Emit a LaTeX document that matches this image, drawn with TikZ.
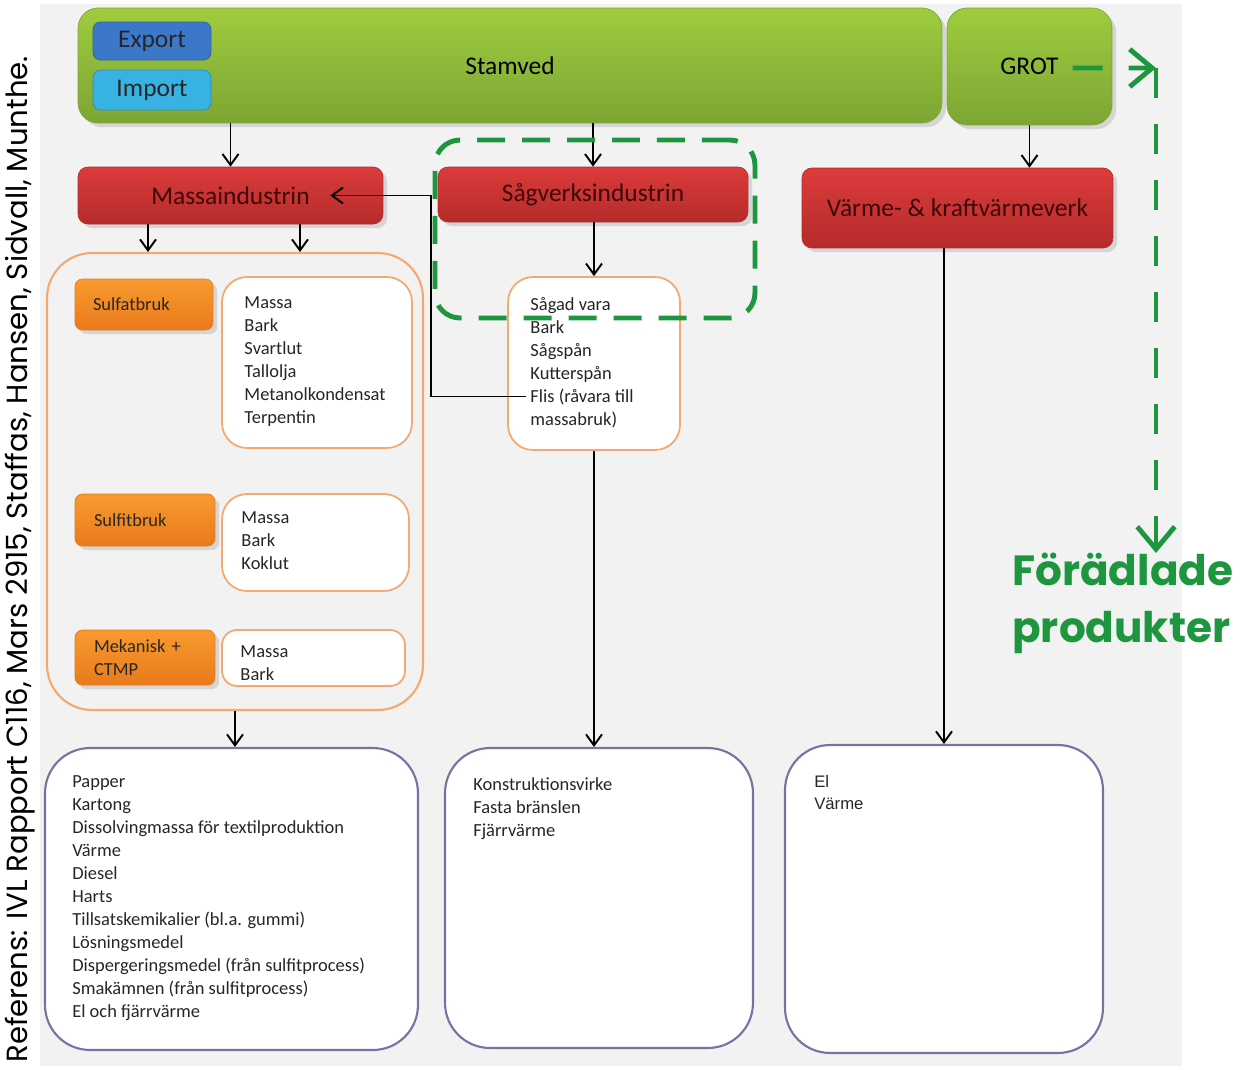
\documentclass[tikz,border=0pt]{standalone}
\usepackage{fontspec}
\setmainfont{Carlito}
\newfontfamily\gothfont{Poppins}
\newfontfamily\arialfont{Liberation Sans}
\usetikzlibrary{positioning,calc,arrows.meta,shadows}

\definecolor{bggray}{HTML}{F2F2F2}
\definecolor{woodtop}{HTML}{9FCC3E}
\definecolor{woodbot}{HTML}{7DA534}
\definecolor{redtop}{HTML}{DC3B3B}
\definecolor{redbot}{HTML}{B52B2B}
\definecolor{redtext}{HTML}{3E0808}
\definecolor{exportblue}{HTML}{3B78C9}
\definecolor{importblue}{HTML}{38B2E3}
\definecolor{orangetop}{HTML}{F89A30}
\definecolor{orangebot}{HTML}{E97A1B}
\definecolor{orangeline}{HTML}{F3A96F}
\definecolor{purpleline}{HTML}{7E6FA1}
\definecolor{dashgreen}{HTML}{1E963F}

\begin{document}
\begin{tikzpicture}[x=0.02cm,y=-0.02cm,
  >={Straight Barb[length=2.2mm,width=3.2mm]},
  headfont/.style={font=\fontsize{14.5}{17}\selectfont},
  woodbox/.style={headfont,rounded corners=0.4cm,top color=woodtop,bottom color=woodbot,draw=woodbot,drop shadow={opacity=0.25}},
  industry/.style={headfont,rounded corners=0.2cm,top color=redtop,bottom color=redbot,draw=redbot,text=redtext,drop shadow={opacity=0.25}},
  tradebox/.style={headfont,rounded corners=0.15cm,fill=#1,draw=#1!80!black,text=black!85,minimum width=2.36cm},
  millbox/.style={rounded corners=0.15cm,top color=orangetop,bottom color=orangebot,draw=orangebot,text=black!85,
    text width=2.04cm,align=left,inner xsep=0.36cm,font=\fontsize{10.5}{13}\selectfont,drop shadow={opacity=0.25}},
  productbox/.style={draw=orangeline,line width=1pt,fill=white,rounded corners=0.5cm},
  resultbox/.style={draw=purpleline,line width=1.2pt,fill=white,rounded corners=0.9cm},
  listtext/.style={anchor=north west,inner sep=0pt,align=left,text=black!85,font=\fontsize{10.5}{13.1}\selectfont},
  flow/.style={->,line width=1.1pt},
  greenflow/.style={dashgreen,line width=2.8pt,dash pattern=on 0.6cm off 0.52cm,-{Straight Barb[length=0.45cm,width=0.75cm]}}]
  \useasboundingbox (0,0) rectangle (1248,1069);
  \fill[bggray] (40,4) rectangle (1182,1066);

  \node[rotate=90,anchor=west,inner sep=0pt,font=\gothfont\fontsize{16.6}{19}\selectfont] (reference) at (20,1063)
    {Referens: IVL Rapport C116, Mars 2915, Staffas, Hansen, Sidvall, Munthe.};

  \node[woodbox,minimum width=17.28cm,minimum height=2.3cm] (stamved) at (510,65.5) {Stamved};
  \node[tradebox=exportblue,minimum height=0.76cm] (export) at (152,41) {Export};
  \node[tradebox=importblue,minimum height=0.8cm] (import) at (152,90) {Import};
  \node[woodbox,minimum width=3.3cm,minimum height=2.34cm] (grot) at (1029.5,66.5) {GROT};

  \node[industry,minimum width=6.1cm,minimum height=1.14cm] (massa) at (230.5,195.5) {Massaindustrin};
  \node[industry,minimum width=6.2cm,minimum height=1.1cm] (sagverk) at (593,194.5) {Sågverksindustrin};
  \node[industry,minimum width=6.22cm,minimum height=1.6cm] (varme) at (957.5,208) {Värme- \& kraftvärmeverk};

  \node[draw=orangeline,line width=1.2pt,rounded corners=0.9cm,minimum width=7.52cm,minimum height=9.14cm] (massabox) at (235,481.5) {};
  \node[millbox,minimum height=1.02cm] (sulfat) at (144,304.5) {Sulfatbruk};
  \node[millbox,minimum width=2.8cm,minimum height=1.04cm] (sulfit) at (145,520) {Sulfitbruk};
  \node[millbox,minimum width=2.8cm,minimum height=1.1cm] (mek) at (145,657.5) {Mekanisk +\\CTMP};

  \node[productbox,minimum width=3.8cm,minimum height=3.42cm] (sulfatprod) at (317,362.5) {};
  \node[productbox,minimum width=3.74cm,minimum height=1.94cm] (sulfitprod) at (315.5,542.5) {};
  \node[productbox,rounded corners=0.3cm,minimum width=3.66cm,minimum height=1.12cm] (mekprod) at (313.5,658) {};
  \node[productbox,minimum width=3.44cm,minimum height=3.46cm] (sagprod) at (594,363.5) {};

  \node[listtext] (sulfatlist) at ($(sulfatprod.north west)+(23,20)$) {Massa\\Bark\\Svartlut\\Tallolja\\Metanolkondensat\\Terpentin};
  \node[listtext] (sulfitlist) at ($(sulfitprod.north west)+(20,18)$) {Massa\\Bark\\Koklut};
  \node[listtext] (meklist) at ($(mekprod.north west)+(19,16)$) {Massa\\Bark};
  \node[listtext] (saglist) at ($(sagprod.north west)+(23,21)$) {Sågad vara\\Bark\\Sågspån\\Kutterspån\\Flis (råvara till\\massabruk)};

  \node[resultbox,minimum width=7.46cm,minimum height=6.04cm] (pulpout) at (231.5,899) {};
  \node[resultbox,minimum width=6.16cm,minimum height=6cm] (sawout) at (599,898) {};
  \node[resultbox,minimum width=6.36cm,minimum height=6.16cm] (heatout) at (944,899) {};

  \node[listtext] (pulplist) at ($(pulpout.north west)+(28,28)$) {Papper\\Kartong\\Dissolvingmassa för textilproduktion\\Värme\\Diesel\\Harts\\Tillsatskemikalier (bl.a. gummi)\\Lösningsmedel\\Dispergeringsmedel (från sulfitprocess)\\Smakämnen (från sulfitprocess)\\El och fjärrvärme};
  \node[listtext] (sawlist) at ($(sawout.north west)+(29,30)$) {Konstruktionsvirke\\Fasta bränslen\\Fjärrvärme};
  \node[listtext,font=\arialfont\fontsize{9.5}{12.5}\selectfont] (heatlist) at ($(heatout.north west)+(30,31)$) {El\\Värme};

  \draw[flow] (stamved.south -| massa.north) -- (massa.north);
  \draw[flow] (stamved.south -| sagverk.north) -- (sagverk.north);
  \draw[flow] (grot.south) -- (grot.south |- varme.north);
  \draw[flow] ([xshift=-1.65cm]massa.south) -- ([xshift=-1.65cm]massa.south |- massabox.north);
  \draw[flow] ([xshift=1.39cm]massa.south) -- ([xshift=1.39cm]massa.south |- massabox.north);
  \draw[flow] (sagverk.south -| sagprod.north) -- (sagprod.north);
  \draw[flow] (massabox.south) -- (massabox.south |- pulpout.north);
  \draw[flow] (sagprod.south) -- (sagprod.south |- sawout.north);
  \draw[flow] (heatout.north |- varme.south) -- (heatout.north);
  \coordinate (flis) at ($(sagprod.west)+(19,33)$);
  \draw[flow] (flis) -- ++(-95,0) |- ([xshift=-1.06cm]massa.east);

  \node[dashgreen,draw,line width=2.8pt,dash pattern=on 0.56cm off 0.34cm,rounded corners=0.5cm,minimum width=6.4cm,minimum height=3.56cm] (sagframe) at (595,229) {};
  \node[anchor=north west,inner sep=0pt,align=left,text=dashgreen,font=\gothfont\bfseries\fontsize{24}{32.3}\selectfont] (foradlade) at (1012,553) {Förädlade\\produkter};
  \coordinate (grotout) at ($(grot.center)+(43,1.5)$);
  \coordinate (bend) at (1156,68);
  \draw[greenflow] (grotout) -- (bend);
  \draw[greenflow] (bend) -- (bend |- foradlade.north);
\end{tikzpicture}
\end{document}
